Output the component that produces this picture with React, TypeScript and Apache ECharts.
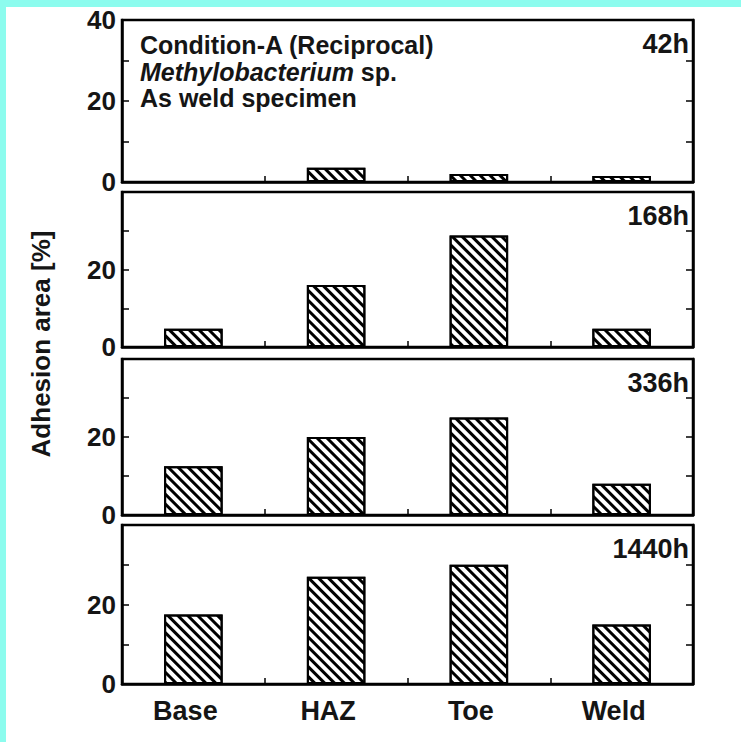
import React, { useEffect, useRef } from "react";
import * as echarts from "echarts";

const categories = ["Base", "HAZ", "Toe", "Weld"];
const panelLabels = ["42h", "168h", "336h", "1440h"];
const values42h = [0, 3.5, 2, 1.5];
const values168h = [4.7, 16, 28.8, 4.7];
const values336h = [12.5, 20, 25, 8];
const values1440h = [17.5, 27, 30, 15];
const panelValues = [values42h, values168h, values336h, values1440h];
const yMin = 0;
const yMax = 40;
const yInterval = 10;
const annotationLines = ["Condition-A (Reciprocal)", "{i|Methylobacterium} sp.", "As weld specimen"];
const yTitle = "Adhesion area [%]";

const FONT = "Liberation Sans, Arial, Helvetica, sans-serif";
const panelTops = [20, 192, 359, 525];
const panelHeights = [162, 155, 156, 159];
const LEFT = 122;
const WIDTH = 571;

export default function App() {
  const ref = useRef<HTMLDivElement>(null);
  useEffect(() => {
    if (!ref.current) return;
    const chart = echarts.init(ref.current, null, { renderer: "svg" });
    const grids: any[] = [];
    const xAxes: any[] = [];
    const yAxes: any[] = [];
    const series: any[] = [];
    panelValues.forEach((vals, i) => {
      grids.push({
        left: LEFT,
        width: WIDTH,
        top: panelTops[i],
        height: panelHeights[i],
        show: true,
        borderColor: "#000",
        borderWidth: 2.5,
        backgroundColor: "#fff",
        containLabel: false,
      });
      xAxes.push({
        type: "category",
        gridIndex: i,
        data: categories,
        boundaryGap: true,
        axisLine: { show: true, lineStyle: { color: "#000", width: 2.5 } },
        axisTick: { show: true, inside: true, length: 6, lineStyle: { color: "#000", width: 1.5 } },
        axisLabel: {
          show: i === 3,
          color: "#151515",
          fontFamily: FONT,
          fontWeight: "bold",
          fontSize: 27,
          margin: 13,
          padding: [0, 16, 0, 0],
        },
        splitLine: { show: false },
      });
      const base = {
        type: "value",
        gridIndex: i,
        min: yMin,
        max: yMax,
        interval: yInterval,
        axisLine: { show: true, lineStyle: { color: "#000", width: 2.5 } },
        axisTick: { show: true, inside: true, length: 7, lineStyle: { color: "#000", width: 1.5 } },
        splitLine: { show: false },
      };
      yAxes.push({
        ...base,
        position: "left",
        axisLabel: {
          show: true,
          color: "#151515",
          fontFamily: FONT,
          fontWeight: "bold",
          fontSize: 26,
          margin: 6,
          formatter: (v: number) => {
            if (v % 20 !== 0) return "";
            if (v === yMax && i > 0) return "";
            return String(v);
          },
        },
      });
      yAxes.push({
        ...base,
        position: "right",
        axisLabel: { show: false },
      });
      series.push({
        type: "bar",
        xAxisIndex: i,
        yAxisIndex: i * 2,
        data: vals,
        barWidth: "41%",
        itemStyle: {
          color: "#fff",
          borderColor: "#000",
          borderWidth: 2,
          decal: {
            symbol: "rect",
            symbolSize: 1,
            color: "#000",
            dashArrayX: [1, 0],
            dashArrayY: [2.5, 4],
            rotation: Math.PI / 4,
          },
        },
      });
    });

    const graphics: any[] = [
      { type: "rect", shape: { x: 0, y: 0, width: 741, height: 7 }, style: { fill: "#8cfcee" }, silent: true },
      { type: "rect", shape: { x: 0, y: 0, width: 6, height: 742 }, style: { fill: "#8cfcee" }, silent: true },
      {
        type: "text",
        x: 41,
        y: 344,
        rotation: Math.PI / 2,
        style: {
          text: yTitle,
          font: `bold 26px ${FONT}`,
          fill: "#151515",
          align: "center",
          verticalAlign: "middle",
        },
      },
    ];
    annotationLines.forEach((t, k) => {
      graphics.push({
        type: "text",
        x: 140,
        y: 45 + k * 26.5,
        style: {
          text: t,
          font: `bold 25px ${FONT}`,
          fill: "#151515",
          align: "left",
          verticalAlign: "middle",
          rich: {
            i: { fontStyle: "italic", fontWeight: "bold", fontSize: 25, fontFamily: FONT, fill: "#151515" },
          },
        },
      });
    });
    panelLabels.forEach((t, i) => {
      graphics.push({
        type: "text",
        x: 689,
        y: panelTops[i] + 24,
        style: {
          text: t,
          font: `bold 27px ${FONT}`,
          fill: "#151515",
          align: "right",
          verticalAlign: "middle",
        },
      });
    });

    chart.setOption({
      animation: false,
      backgroundColor: "#fff",
      grid: grids,
      xAxis: xAxes,
      yAxis: yAxes,
      series,
      graphic: graphics,
    });
    return () => chart.dispose();
  }, []);
  return (
    <div
      ref={ref}
      style={{ position: "fixed", left: 0, top: 0, width: 741, height: 742 }}
    />
  );
}
